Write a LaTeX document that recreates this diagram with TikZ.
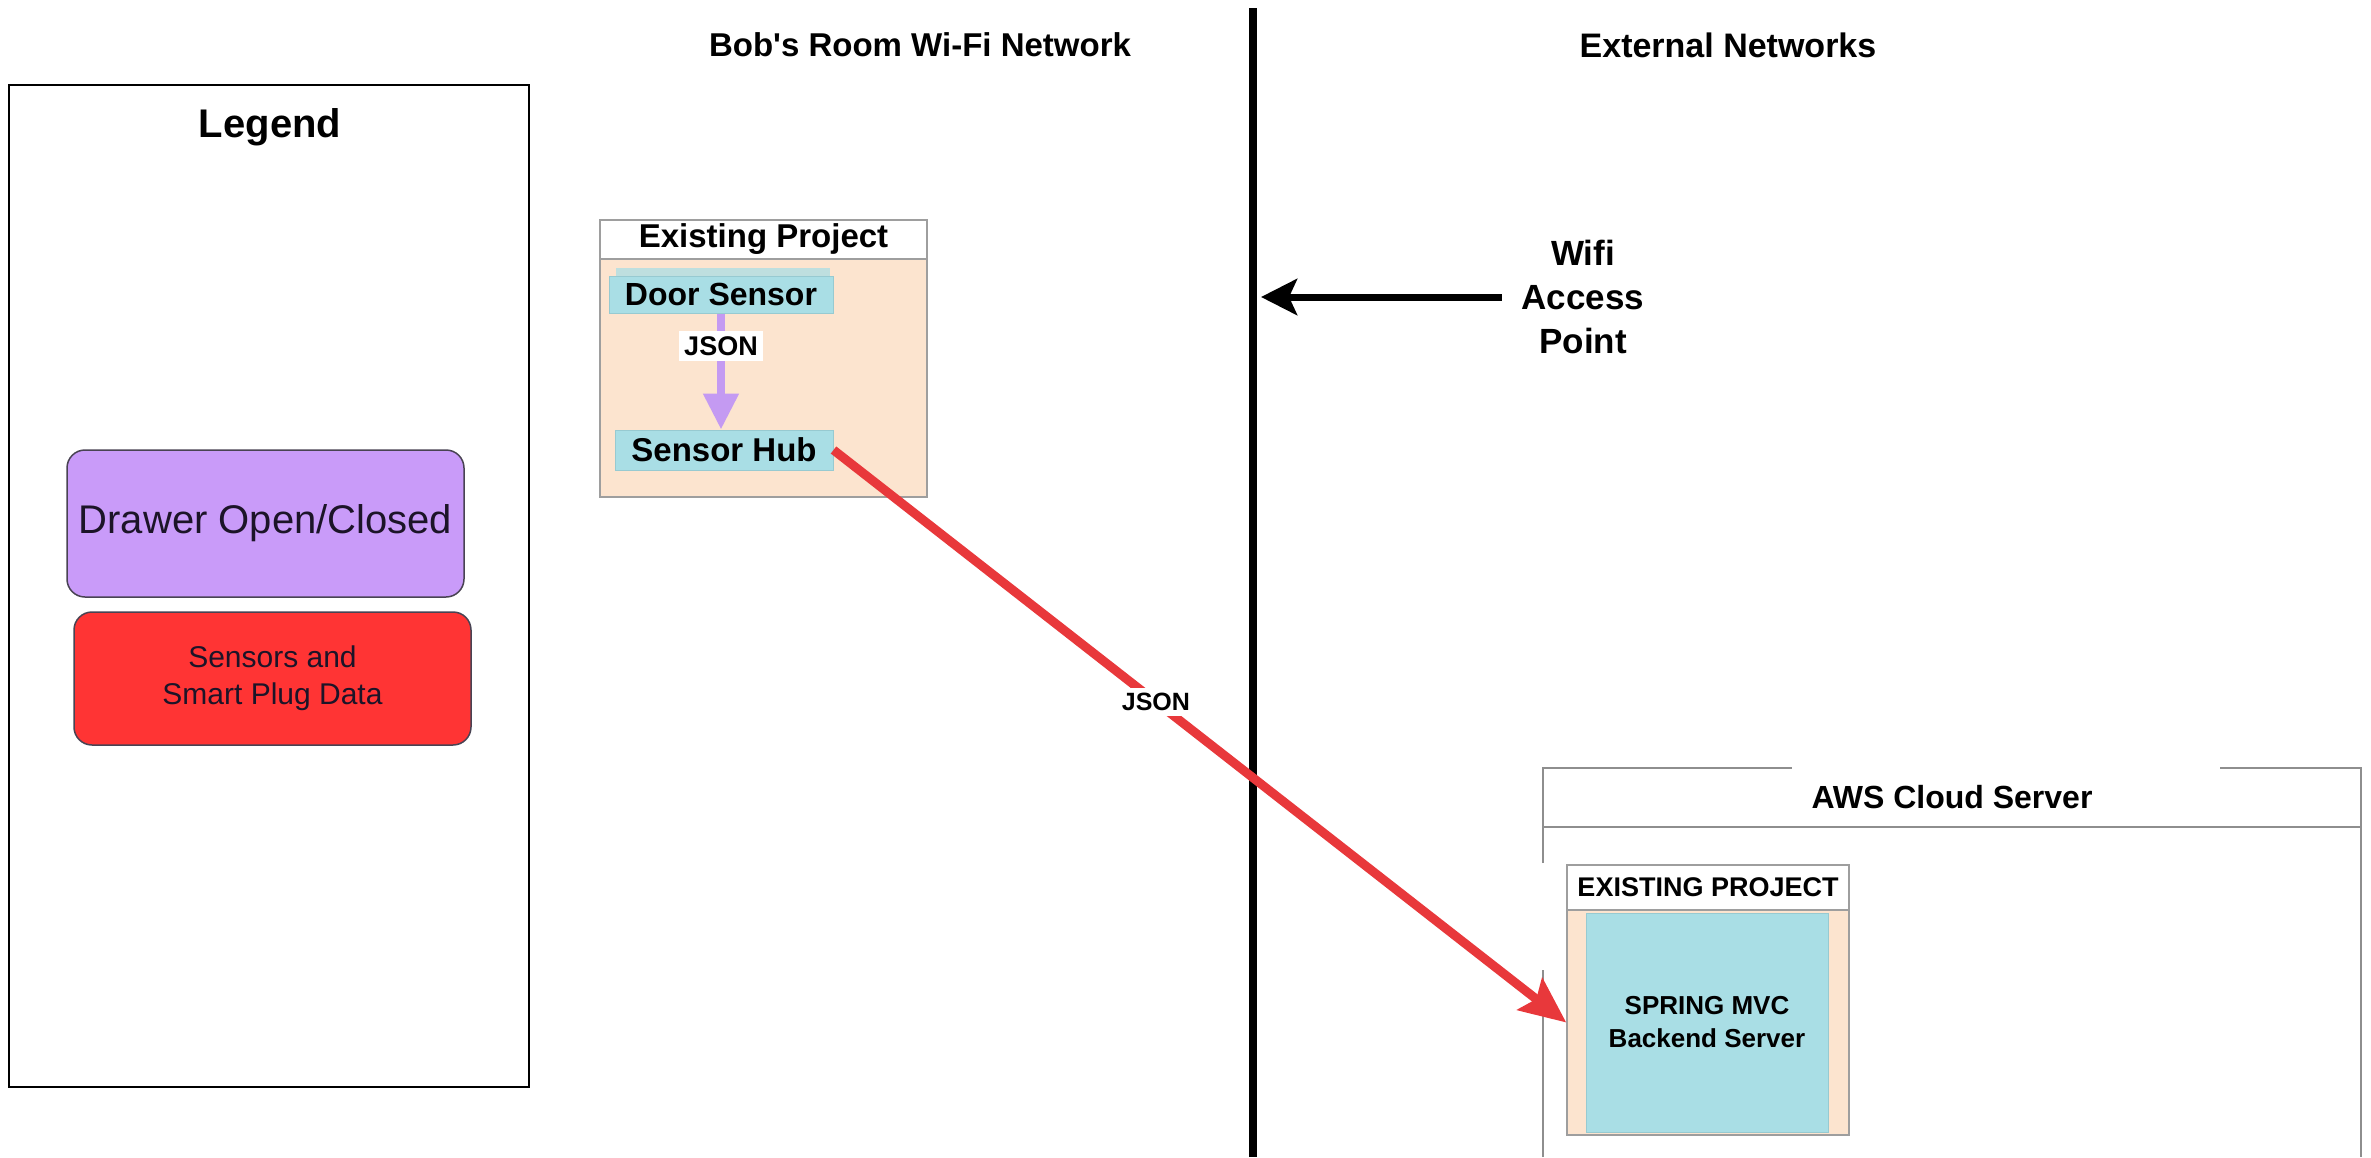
\documentclass[tikz,border=0pt]{standalone}
\usepackage{fontspec}
\setmainfont{Liberation Sans}
\usetikzlibrary{arrows.meta,calc}

\definecolor{peach}{HTML}{FCE4CF}
\definecolor{boxteal}{HTML}{A9DEE5}
\definecolor{tealedge}{HTML}{97CAD1}
\definecolor{keypurple}{HTML}{C99BF9}
\definecolor{keyred}{HTML}{FF3434}
\definecolor{arrowred}{HTML}{E8383B}
\definecolor{arrowpurple}{HTML}{C49AF2}
\definecolor{boxgrey}{HTML}{9E9E9E}
\definecolor{awsgrey}{HTML}{8E8E8E}
\definecolor{keyink}{HTML}{1C1428}

\tikzset{
  lbl/.style={inner sep=0pt, text=black},
  hdr/.style={lbl, font=\bfseries\fontsize{33}{40}\selectfont},
  legendkey/.style={draw=keyink!80, line width=1.5pt, rounded corners=18pt,
                    inner sep=0pt, text=keyink, align=center},
  projframe/.style={draw=boxgrey, line width=2pt, inner sep=0pt},
  sensorbox/.style={fill=boxteal, draw=tealedge, line width=1pt, inner sep=0pt,
                    font=\bfseries\fontsize{32}{38}\selectfont},
  jsonlbl/.style={fill=white, inner sep=5pt, text=black},
  purplearrow/.style={draw=arrowpurple, line width=8pt,
                      -{Triangle[width=34pt,length=36pt]}},
  redarrow/.style={draw=arrowred, line width=9pt,
                   -{Stealth[width=40pt,length=46pt,inset=8pt]}},
  wifiarrow/.style={draw=black, line width=7pt,
                    -{Stealth[width=36pt,length=36pt,inset=8pt]}},
  awsframe/.style={draw=awsgrey, line width=2.5pt},
}

\begin{document}
\begin{tikzpicture}[x=1pt,y=-1pt]
\useasboundingbox[fill=white] (0,0) rectangle (2371,1157);

% ---------- legend ----------
\node[draw=black, line width=2pt, minimum width=520pt, minimum height=1002pt,
      inner sep=0pt] (legend) at (269,586) {};
\node[lbl, font=\bfseries\fontsize{40}{48}\selectfont] (legendtitle) at (270,127) {Legend};
\node[legendkey, fill=keypurple, minimum width=397pt, minimum height=147pt,
      font=\fontsize{40}{48}\selectfont] (keydrawer) at (265.5,523.5) {Drawer Open/Closed};
\node[legendkey, fill=keyred, minimum width=397pt, minimum height=133pt,
      font=\fontsize{30}{37}\selectfont] (keydata) at (272.5,678.5) {Sensors and\\Smart Plug Data};

% ---------- region titles and divider ----------
\node[hdr] (roomtitle) at (920,45) {Bob\textquotesingle s Room Wi-Fi Network};
\node[hdr, font=\bfseries\fontsize{34}{40}\selectfont] (exttitle) at (1728,45) {External Networks};
\coordinate (divtop) at (1253,8);
\coordinate (divbot) at (1253,1157);
\draw[line width=8pt] (divtop) -- (divbot);

% ---------- wifi access point ----------
\node[lbl, align=center, font=\bfseries\fontsize{35}{44}\selectfont] (wifi) at (1583,297)
  {Wifi\\Access\\Point};
\coordinate (apin) at (1261,297);
\draw[wifiarrow] ([xshift=-20pt]wifi.west) -- (apin);

% ---------- existing project in the room ----------
\node[projframe, fill=peach, minimum width=327pt, minimum height=238pt] (proj) at (763.5,378) {};
\node[projframe, fill=white, minimum width=327pt, minimum height=39pt,
      font=\bfseries\fontsize{33}{40}\selectfont] (projhead) at (763.5,239.5) {Existing Project};
\fill[boxteal!75!peach] (616,268) rectangle (830,300);
\node[sensorbox, minimum width=224pt, minimum height=37pt] (door) at (721,294.5) {Door Sensor};
\node[sensorbox, minimum width=218pt, minimum height=40pt,
      font=\bfseries\fontsize{33}{40}\selectfont] (hub) at (724,450) {Sensor Hub};
\draw[purplearrow] (door.south) --
  node[pos=0.28, jsonlbl, font=\bfseries\fontsize{27}{32}\selectfont] (jsona) {JSON}
  (door.south |- hub.north);

% ---------- AWS cloud server ----------
\draw[awsframe] (1543,1157) -- (1543,970)
                (1543,863) -- (1543,768) -- (1792,768)
                (2220,768) -- (2361,768) -- (2361,1157);
\draw[awsframe] (1543,827) -- (2361,827);
\node[lbl, font=\bfseries\fontsize{32}{38}\selectfont] (awstitle) at (1952,797) {AWS Cloud Server};
\node[projframe, line width=1.5pt, fill=peach, minimum width=282pt, minimum height=225pt] (srvproj)
  at (1708,1022.5) {};
\node[projframe, line width=1.5pt, fill=white, minimum width=282pt, minimum height=45pt,
      font=\bfseries\fontsize{27}{32}\selectfont] (srvhead) at (1708,887.5) {EXISTING PROJECT};
\node[fill=boxteal, draw=tealedge, line width=1pt, inner sep=0pt, minimum width=242pt,
      minimum height=219pt, align=center, font=\bfseries\fontsize{26}{33}\selectfont] (spring)
  at (1707,1022.5) {SPRING MVC\\Backend Server};

% ---------- data path to the server ----------
\draw[redarrow] (hub.east) --
  node[pos=0.44, jsonlbl, font=\bfseries\fontsize{25}{30}\selectfont] (jsonb) {JSON}
  (srvproj.west);
\end{tikzpicture}
\end{document}
